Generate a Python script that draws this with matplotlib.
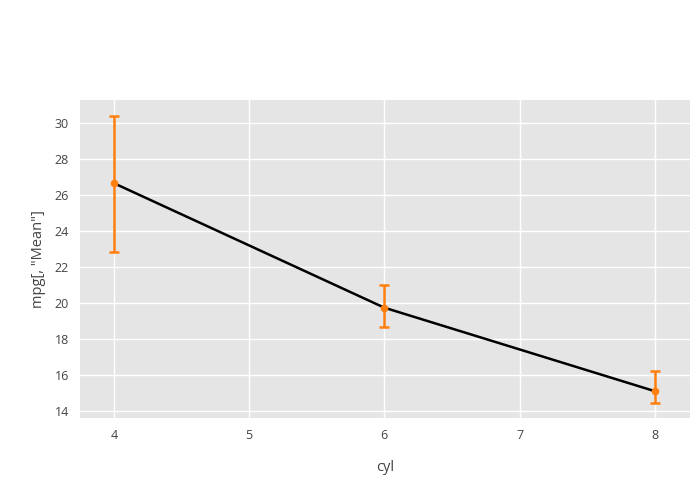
import matplotlib
matplotlib.use("Agg")
import matplotlib.pyplot as plt

cyl = [4, 6, 8]
mpg_mean = [26.66, 19.74, 15.10]
err_low = [22.83, 18.67, 14.44]
err_high = [30.39, 21.00, 16.22]

yticks = [14, 16, 18, 20, 22, 24, 26, 28, 30]
xticks = [4, 5, 6, 7, 8]

plt.rcParams['font.family'] = ['Open Sans', 'DejaVu Sans']

fig = plt.figure(figsize=(7, 5), dpi=100)
ax = fig.add_axes([80 / 700, 1 - 418 / 500, 610 / 700, 318 / 500])
ax.set_facecolor('#e5e5e5')
for s in ax.spines.values():
    s.set_visible(False)

ax.plot(cyl, mpg_mean, color='black', linewidth=1.8, zorder=3)
yerr = [[m - lo for m, lo in zip(mpg_mean, err_low)],
        [hi - m for m, hi in zip(mpg_mean, err_high)]]
ax.errorbar(cyl, mpg_mean, yerr=yerr, fmt='o', color='#ff7f0e', ecolor='#ff7f0e',
            markersize=4.5, elinewidth=1.8, capsize=3.5, capthick=1.8, zorder=4)

ax.set_xlim(3.75, 8.26)
ax.set_ylim(13.61, 31.28)
ax.set_xticks(xticks)
ax.set_yticks(yticks)
ax.grid(color='white', linewidth=1)
ax.set_axisbelow(True)
ax.tick_params(length=0, labelsize=9, colors='#444444', pad=8)

ax.set_xlabel('cyl', fontsize=10.5, color='#444444', labelpad=13)
ax.set_ylabel('mpg[, "Mean"]', fontsize=10.5, color='#444444', labelpad=6)

fig.savefig('out.png', dpi=100)
